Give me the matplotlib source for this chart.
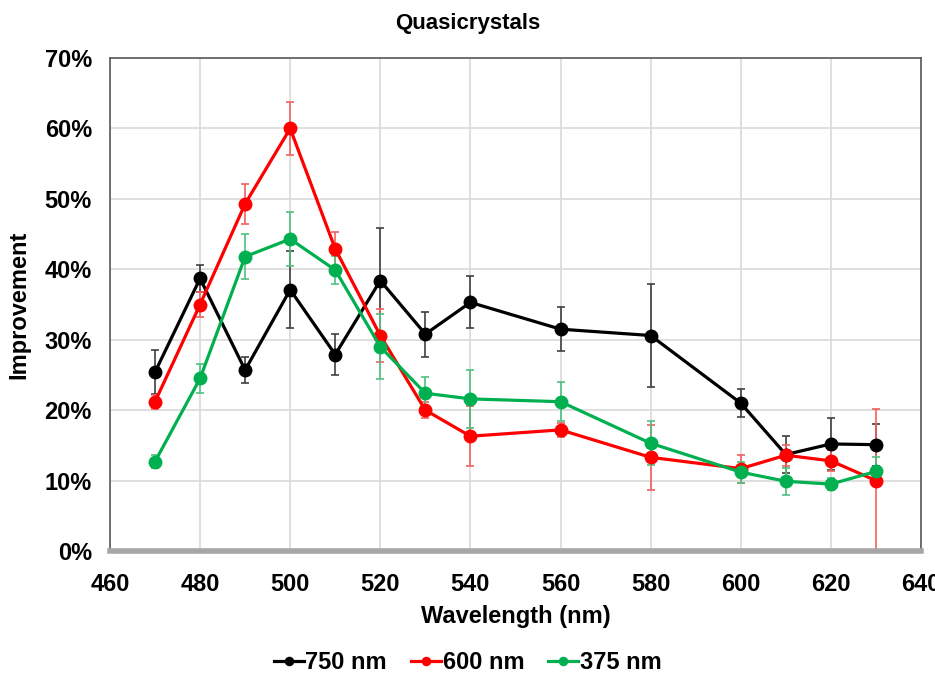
import numpy as np
import matplotlib
matplotlib.use("Agg")
import matplotlib.pyplot as plt
from matplotlib.ticker import PercentFormatter

plt.rcParams['font.family'] = ['Liberation Sans', 'DejaVu Sans']
plt.rcParams['font.weight'] = 'bold'

wavelength = [470, 480, 490, 500, 510, 520, 530, 540, 560, 580, 600, 610, 620, 630]

# improvement (%) and error bars
imp_750 = [25.4, 38.7, 25.7, 37.1, 27.9, 38.4, 30.8, 35.3, 31.5, 30.6, 21.0, 13.7, 15.2, 15.1]
err_750 = [3.1, 1.9, 1.9, 5.5, 2.9, 7.5, 3.2, 3.7, 3.1, 7.3, 2.0, 2.6, 3.7, 3.0]

imp_600 = [21.2, 35.0, 49.3, 60.0, 42.9, 30.6, 20.0, 16.3, 17.2, 13.3, 11.7, 13.6, 12.8, 10.0]
err_600 = [1.0, 1.8, 2.8, 3.7, 2.4, 3.8, 1.1, 4.3, 1.0, 4.6, 2.0, 1.5, 1.5, 10.1]

imp_375 = [12.7, 24.5, 41.8, 44.3, 39.9, 29.0, 22.4, 21.6, 21.2, 15.3, 11.2, 9.9, 9.5, 11.3]
err_375 = [0.9, 2.1, 3.2, 3.9, 2.0, 4.6, 2.3, 4.1, 2.8, 3.1, 1.5, 1.9, 0.9, 2.0]

series = [
    ("750 nm", imp_750, err_750, "#000000", "#404040"),
    ("600 nm", imp_600, err_600, "#FF0000", "#F06060"),
    ("375 nm", imp_375, err_375, "#00B050", "#50C080"),
]

fig = plt.figure(figsize=(9.35, 6.75), dpi=100)
ax = fig.add_axes([0.1176, 0.1837, 0.8674, 0.7303])

for name, y, err, col, ecol in series:
    ax.errorbar(wavelength, y, yerr=err, fmt='none', ecolor=ecol,
                elinewidth=1.2, capsize=3, capthick=1.2, zorder=2)
    ax.plot(wavelength, y, color=col, lw=2.3, marker='o', markersize=9,
            label=name, zorder=3)

ax.set_xlim(460, 640)
ax.set_ylim(0, 70)
ax.set_xticks(np.arange(460, 641, 20))
ax.set_yticks(np.arange(0, 71, 10))
ax.yaxis.set_major_formatter(PercentFormatter(decimals=0))
ax.grid(True, color='#D9D9D9', lw=1.2)
ax.set_axisbelow(True)
ax.tick_params(axis='x', length=0, labelsize=17, pad=16)
ax.tick_params(axis='y', length=0, labelsize=17, pad=13)
for lab in ax.get_xticklabels() + ax.get_yticklabels():
    lab.set_fontweight('bold')

for side in ['left', 'top', 'right']:
    ax.spines[side].set_color('#595959')
    ax.spines[side].set_linewidth(1.2)
ax.spines['bottom'].set_color('#A6A6A6')
ax.spines['bottom'].set_linewidth(4)

ax.set_xlabel("Wavelength (nm)", fontsize=17, fontweight='bold', labelpad=6)
ax.set_ylabel("Improvement", fontsize=17, fontweight='bold', labelpad=10)
fig.text(0.5, 0.965, "Quasicrystals", ha='center', va='center',
         fontsize=16, fontweight='bold')

leg = fig.legend(loc='center', bbox_to_anchor=(0.5, 0.018), ncol=3,
                 frameon=False, fontsize=17, handlelength=1.3,
                 handletextpad=0.05, columnspacing=1.0, markerscale=0.65)
for t in leg.get_texts():
    t.set_fontweight('bold')

fig.savefig("out.png", dpi=100)
